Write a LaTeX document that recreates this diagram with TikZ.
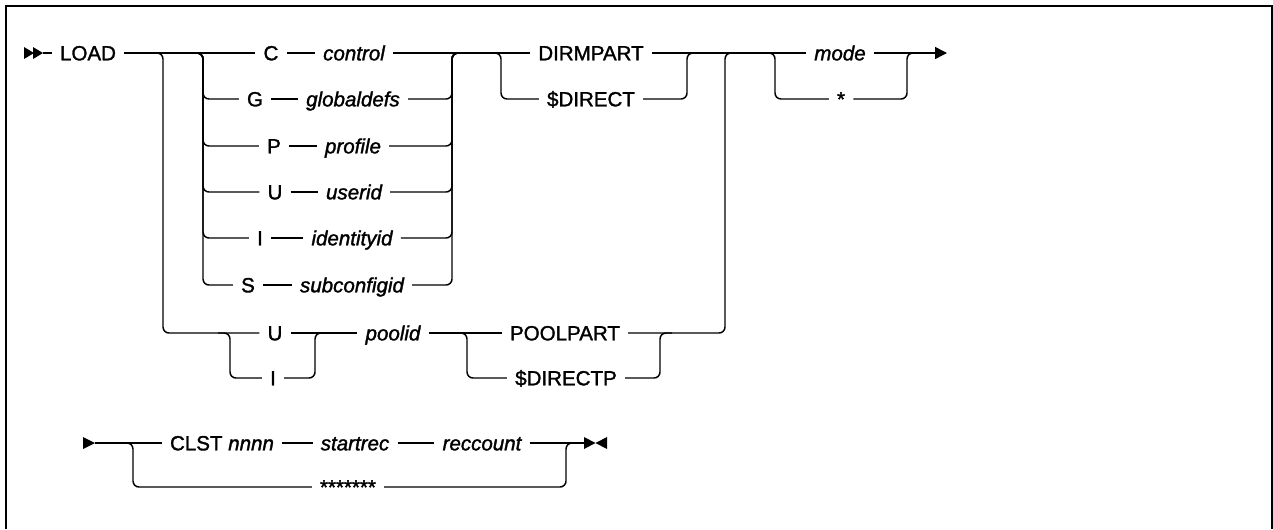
\documentclass[tikz,border=0pt]{standalone}
\usepackage{fontspec}
\setmainfont{Liberation Sans}[FakeBold=1.5]
\usetikzlibrary{arrows.meta}
\tikzset{
  rail/.style={line width=1.1pt, rounded corners=4.5pt},
  kw/.style={font=\fontsize{15.4}{18}\selectfont, inner xsep=6pt, inner ysep=0pt, text height=11pt, text depth=0pt},
  var/.style={kw, font=\fontsize{15.4}{18}\selectfont\itshape},
  frame/.style={line width=1.5pt},
  tip/.style={fill=black}
}
\newcommand\railsplit[2]{\draw[rail] ([xshift=-9pt]#1) -- (#1) -- (#1 |- #2) -- (#2);}
\newcommand\railjoin[2]{\draw[rail] (#2) -- (#1 |- #2) -- (#1) -- ([xshift=9pt]#1);}
\begin{document}
\begin{tikzpicture}[x=0.75pt,y=-0.75pt]
\useasboundingbox (0,0) rectangle (1273,529);
\draw[frame] (6,529) -- (6,6) -- (1272,6) -- (1272,529);

% ---------- row 1 ----------
\coordinate (st1) at (43,53);
\fill[tip] (24,47) -- (34,53) -- (24,59) -- cycle;
\fill[tip] (33,47) -- (43,53) -- (33,59) -- cycle;
\node[kw] (load) at (88,53) {LOAD};

\coordinate (s1) at (163,53);
\coordinate (s2) at (203,53);
\coordinate (j2) at (452,53);
\coordinate (s3) at (501,53);
\coordinate (j3) at (687,53);
\coordinate (j1) at (725,53);
\coordinate (s4) at (775,53);
\coordinate (j4) at (907,53);
\coordinate (e1) at (947,53);

\node[kw]  (c)  at (271,53)  {C};
\node[var] (cv) at (354,53)  {control};
\node[kw]  (g)  at (255,99)  {G};
\node[var] (gv) at (353,99)  {globaldefs};
\node[kw]  (p)  at (274,146) {P};
\node[var] (pv) at (353,146) {profile};
\node[kw]  (u)  at (275,192) {U};
\node[var] (uv) at (354,192) {userid};
\node[kw]  (i)  at (260,238) {I};
\node[var] (iv) at (352,238) {identityid};
\node[kw]  (s)  at (248,285) {S};
\node[var] (sv) at (352,285) {subconfigid};

\node[kw] (dirm) at (591,53) {DIRMPART};
\node[kw] (dirc) at (591,99) {\$DIRECT};
\node[var] (mode) at (840,53) {mode};
\node[kw]  (star) at (841,99) {*};

\draw[rail] (st1) -- (load.west);
\draw[rail] (load.east) -- (c.west);
\draw[rail] (c.east) -- (cv.west);
\draw[rail] (cv.east) -- (dirm.west);
\draw[rail] (dirm.east) -- (mode.west);
\draw[rail,-{Triangle[length=9pt,width=9pt]}] (mode.east) -- (e1);

\foreach \a/\b in {g/gv,p/pv,u/uv,i/iv,s/sv}{
  \railsplit{s2}{\a.west}
  \draw[rail] (\a.east) -- (\b.west);
  \railjoin{j2}{\b.east}
}
\railsplit{s3}{dirc.west}
\railjoin{j3}{dirc.east}
\railsplit{s4}{star.west}
\railjoin{j4}{star.east}

% ---------- lower branch ----------
\node[kw]  (u2) at (275,333) {U};
\node[kw]  (i2) at (273,378) {I};
\node[var] (pool) at (393,333) {poolid};
\node[kw]  (pp) at (565,333) {POOLPART};
\node[kw]  (dp) at (566,378) {\$DIRECTP};
\coordinate (s5) at (230,333);
\coordinate (j5) at (315,333);
\coordinate (s6) at (467,333);
\coordinate (j6) at (660,333);

\railsplit{s1}{u2.west}
\draw[rail] (u2.east) -- (pool.west);
\railsplit{s5}{i2.west}
\railjoin{j5}{i2.east}
\draw[rail] (pool.east) -- (pp.west);
\railsplit{s6}{dp.west}
\railjoin{j6}{dp.east}
\draw[rail] (pp.east) -- (j1 |- pp.east) -- (j1) -- ([xshift=9pt]j1);

% ---------- row 2 ----------
\coordinate (st2) at (95,443);
\fill[tip] (83,437) -- (95,443) -- (83,449) -- cycle;
\node[kw] (clst) at (222,443) {CLST \textit{nnnn}};
\node[var] (sr) at (355,443) {startrec};
\node[var] (rc) at (482,443) {reccount};
\node[kw] (stars) at (348,487) {*******};
\coordinate (s7) at (133,443);
\coordinate (j7) at (566,443);
\coordinate (bt) at (584,443);
\fill[tip] (584,437) -- (595.5,443) -- (584,449) -- cycle;
\fill[tip] (607,437) -- (595.5,443) -- (607,449) -- cycle;

\draw[rail] (st2) -- (clst.west);
\draw[rail] (clst.east) -- (sr.west);
\draw[rail] (sr.east) -- (rc.west);
\draw[rail] (rc.east) -- (bt);
\railsplit{s7}{stars.west}
\railjoin{j7}{stars.east}
\end{tikzpicture}
\end{document}
